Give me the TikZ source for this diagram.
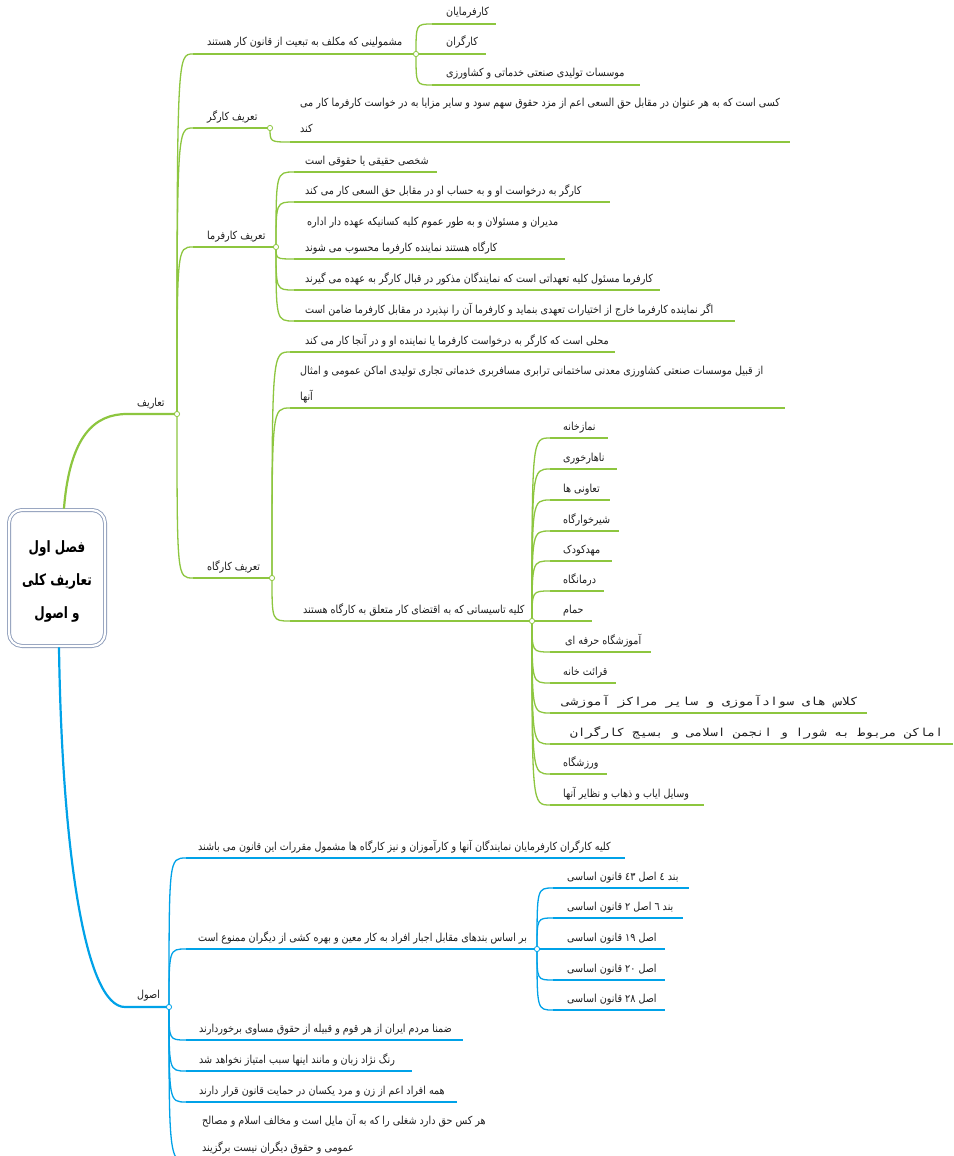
\documentclass[tikz,border=0pt]{standalone}
\usepackage{fontspec}
\setmainfont{DejaVu Sans}
\newfontfamily\arf[Script=Arabic]{DejaVu Sans}
\newfontfamily\arfm[Script=Arabic]{DejaVu Sans Mono}
\TeXXeTstate=1
\newcommand\RTLtxt[1]{\scalebox{1}[1.15]{\beginR #1\endR}}
\newcommand\RTLroot[1]{\scalebox{1}[1.3]{\beginR #1\endR}}
\definecolor{gbr}{RGB}{141,198,63}
\definecolor{bbr}{RGB}{0,162,232}
\definecolor{rootb}{RGB}{140,155,185}
\definecolor{txt}{RGB}{30,30,30}
\tikzset{
  lbl/.style={font=\arf\fontsize{9.6}{12}\selectfont, text=txt, inner sep=0pt, anchor=base west},
  mlbl/.style={font=\arfm\fontsize{9.6}{12}\selectfont, text=txt, inner sep=0pt, anchor=base west},
  gmain/.style={draw=gbr, line width=2.2pt, line cap=round},
  bmain/.style={draw=bbr, line width=2.2pt, line cap=round},
  gc/.style={draw=gbr, line width=1.3pt},
  bc/.style={draw=bbr, line width=1.3pt},
  gu/.style={draw=gbr, line width=1.6pt},
  bu/.style={draw=bbr, line width=1.6pt},
  gdot/.style={fill=white, draw=gbr, line width=0.8pt},
  bdot/.style={fill=white, draw=bbr, line width=0.8pt},
}
\begin{document}
\begin{tikzpicture}[x=1pt,y=-1pt]
\useasboundingbox (0,0) rectangle (953,1156);
\fill[white] (0,0) rectangle (953,1156);

% ---------- root ----------
\node[draw=rootb, double=white, double distance=2.2pt, line width=0.9pt, rounded corners=13pt,
      minimum width=96pt, minimum height=136pt, inner sep=0pt] (root) at (57,578) {};
\node[align=center, font=\arf\bfseries\fontsize{12}{33}\selectfont, text=black, inner sep=0pt] (rootT) at (57,581)
  {\RTLroot{فصل اول}\\\RTLroot{تعاریف کلی}\\\RTLroot{و اصول}};

% ---------- coordinates (green) ----------
\coordinate (r1) at (64,508);
\coordinate (h1) at (127,414);
\coordinate (jT) at (177,414);
\coordinate (m1) at (193,54);   \coordinate (jM) at (416,54);
\coordinate (m1a) at (432,24);  \coordinate (m1ae) at (496,24);
\coordinate (m1be) at (486,54);
\coordinate (m1c) at (432,85);  \coordinate (m1ce) at (640,85);
\coordinate (m2) at (193,128);  \coordinate (jK) at (270,128);
\coordinate (m2a) at (290,142); \coordinate (m2ae) at (790,142);
\coordinate (m3) at (193,247);  \coordinate (jF) at (276,247);
\coordinate (f1) at (294,172);  \coordinate (f1e) at (437,172);
\coordinate (f2) at (294,202);  \coordinate (f2e) at (610,202);
\coordinate (f3) at (294,259);  \coordinate (f3e) at (565,259);
\coordinate (f4) at (294,290);  \coordinate (f4e) at (660,290);
\coordinate (f5) at (294,321);  \coordinate (f5e) at (735,321);
\coordinate (m4) at (193,578);  \coordinate (jG) at (272,578);
\coordinate (g1) at (290,352);  \coordinate (g1e) at (615,352);
\coordinate (g2) at (290,408);  \coordinate (g2e) at (785,408);
\coordinate (g3) at (290,621);  \coordinate (jS) at (532,621);
\coordinate (s1) at (550,438);  \coordinate (s1e) at (608,438);
\coordinate (s2) at (550,469);  \coordinate (s2e) at (617,469);
\coordinate (s3) at (550,500);  \coordinate (s3e) at (610,500);
\coordinate (s4) at (550,531);  \coordinate (s4e) at (619,531);
\coordinate (s5) at (550,561);  \coordinate (s5e) at (612,561);
\coordinate (s6) at (550,591);  \coordinate (s6e) at (604,591);
\coordinate (s7e) at (592,621);
\coordinate (s8) at (550,652);  \coordinate (s8e) at (651,652);
\coordinate (s9) at (550,683);  \coordinate (s9e) at (616,683);
\coordinate (s10) at (550,713); \coordinate (s10e) at (867,713);
\coordinate (s11) at (550,744); \coordinate (s11e) at (953,744);
\coordinate (s12) at (550,774); \coordinate (s12e) at (607,774);
\coordinate (s13) at (550,805); \coordinate (s13e) at (704,805);

% ---------- green connectors ----------
\draw[gmain] (r1) .. controls (70,435) and (95,414) .. (h1) -- (jT);
\foreach \c in {m1,m2,m3,m4}
  \draw[gc] (jT) .. controls (jT |- \c) and (jT |- \c) .. (\c);
\draw[gu] (m1) -- (jM);
\draw[gu] (m2) -- (jK);
\draw[gu] (m3) -- (jF);
\draw[gu] (m4) -- (jG);
\foreach \c in {m1a,m1c}
  \draw[gc] (jM) .. controls (jM |- \c) and (jM |- \c) .. (\c);
\draw[gu] (m1a) -- (m1ae);
\draw[gu] (jM) -- (m1be);
\draw[gu] (m1c) -- (m1ce);
\draw[gc] (jK) .. controls (jK |- m2a) and (jK |- m2a) .. (m2a);
\draw[gu] (m2a) -- (m2ae);
\foreach \c in {f1,f2,f3,f4,f5}
  \draw[gc] (jF) .. controls (jF |- \c) and (jF |- \c) .. (\c);
\draw[gu] (f1) -- (f1e);
\draw[gu] (f2) -- (f2e);
\draw[gu] (f3) -- (f3e);
\draw[gu] (f4) -- (f4e);
\draw[gu] (f5) -- (f5e);
\foreach \c in {g1,g2,g3}
  \draw[gc] (jG) .. controls (jG |- \c) and (jG |- \c) .. (\c);
\draw[gu] (g1) -- (g1e);
\draw[gu] (g2) -- (g2e);
\draw[gu] (g3) -- (jS);
\foreach \c in {s1,s2,s3,s4,s5,s6,s8,s9,s10,s11,s12,s13}
  \draw[gc] (jS) .. controls (jS |- \c) and (jS |- \c) .. (\c);
\draw[gu] (s1) -- (s1e);
\draw[gu] (s2) -- (s2e);
\draw[gu] (s3) -- (s3e);
\draw[gu] (s4) -- (s4e);
\draw[gu] (s5) -- (s5e);
\draw[gu] (s6) -- (s6e);
\draw[gu] (jS) -- (s7e);
\draw[gu] (s8) -- (s8e);
\draw[gu] (s9) -- (s9e);
\draw[gu] (s10) -- (s10e);
\draw[gu] (s11) -- (s11e);
\draw[gu] (s12) -- (s12e);
\draw[gu] (s13) -- (s13e);

% ---------- coordinates (blue) ----------
\coordinate (r2) at (59,648);
\coordinate (h2) at (125,1007);
\coordinate (jA) at (169,1007);
\coordinate (a1) at (186,858);  \coordinate (a1e) at (625,858);
\coordinate (a2) at (186,949);  \coordinate (jB) at (537,949);
\coordinate (b1) at (553,888);  \coordinate (b1e) at (689,888);
\coordinate (b2) at (553,918);  \coordinate (b2e) at (683,918);
\coordinate (b3e) at (665,949);
\coordinate (b4) at (553,980);  \coordinate (b4e) at (665,980);
\coordinate (b5) at (553,1010); \coordinate (b5e) at (665,1010);
\coordinate (a3) at (186,1040); \coordinate (a3e) at (463,1040);
\coordinate (a4) at (186,1071); \coordinate (a4e) at (412,1071);
\coordinate (a5) at (186,1102); \coordinate (a5e) at (457,1102);
\coordinate (a6) at (192,1163); \coordinate (a6e) at (520,1163);

% ---------- blue connectors ----------
\draw[bmain] (r2) .. controls (62,850) and (85,1007) .. (h2) -- (jA);
\foreach \c in {a1,a2,a3,a4,a5,a6}
  \draw[bc] (jA) .. controls (jA |- \c) and (jA |- \c) .. (\c);
\draw[bu] (a1) -- (a1e);
\draw[bu] (a2) -- (jB);
\draw[bu] (a3) -- (a3e);
\draw[bu] (a4) -- (a4e);
\draw[bu] (a5) -- (a5e);
\draw[bu] (a6) -- (a6e);
\foreach \c in {b1,b2,b4,b5}
  \draw[bc] (jB) .. controls (jB |- \c) and (jB |- \c) .. (\c);
\draw[bu] (b1) -- (b1e);
\draw[bu] (b2) -- (b2e);
\draw[bu] (jB) -- (b3e);
\draw[bu] (b4) -- (b4e);
\draw[bu] (b5) -- (b5e);

% ---------- junction dots ----------
\foreach \j in {jT,jM,jK,jF,jG,jS} \path[gdot] (\j) circle (2.6pt);
\foreach \j in {jA,jB} \path[bdot] (\j) circle (2.6pt);

% ---------- labels (green) ----------
\node[lbl] (tT) at (137,406) {\RTLtxt{تعاریف}};
\node[lbl] (tM) at (207,46) {\RTLtxt{مشمولینی که مکلف به تبعیت از  قانون کار هستند}};
\node[lbl] (tMa) at (446,16) {\RTLtxt{کارفرمایان}};
\node[lbl] (tMb) at (446,46) {\RTLtxt{کارگران}};
\node[lbl] (tMc) at (446,77) {\RTLtxt{موسسات تولیدی صنعتی خدماتی و کشاورزی}};
\node[lbl] (tK) at (207,120) {\RTLtxt{تعریف کارگر}};
\node[lbl] (tKa1) at (300,106) {\RTLtxt{کسی است که به هر عنوان در مقابل حق السعی اعم از مزد حقوق سهم سود و سایر مزایا به در خواست کارفرما کار می}};
\node[lbl] (tKa2) at (300,132) {\RTLtxt{کند}};
\node[lbl] (tF) at (207,239) {\RTLtxt{تعریف کارفرما}};
\node[lbl] (tF1) at (305,164) {\RTLtxt{شخصی حقیقی یا حقوقی است}};
\node[lbl] (tF2) at (305,194) {\RTLtxt{کارگر به درخواست او و به حساب او در مقابل حق السعی کار می کند}};
\node[lbl] (tF3a) at (307,225) {\RTLtxt{مدیران و مسئولان و به طور عموم کلیه کسانیکه عهده دار اداره}};
\node[lbl] (tF3b) at (305,251) {\RTLtxt{کارگاه هستند نماینده کارفرما محسوب می شوند}};
\node[lbl] (tF4) at (305,282) {\RTLtxt{کارفرما مسئول کلیه تعهداتی است که نمایندگان مذکور در قبال کارگر به عهده می گیرند}};
\node[lbl] (tF5) at (305,313) {\RTLtxt{اگر نماینده کارفرما خارج از اختیارات تعهدی بنماید و کارفرما آن را نپذیرد در مقابل کارفرما ضامن است}};
\node[lbl] (tG) at (207,570) {\RTLtxt{تعریف کارگاه}};
\node[lbl] (tG1) at (305,344) {\RTLtxt{محلی است که کارگر به درخواست کارفرما یا نماینده او و در آنجا کار می کند}};
\node[lbl] (tG2a) at (300,374) {\RTLtxt{از قبیل موسسات صنعتی کشاورزی معدنی ساختمانی ترابری مسافربری خدماتی تجاری تولیدی اماکن عمومی و امثال}};
\node[lbl] (tG2b) at (300,400) {\RTLtxt{آنها}};
\node[lbl] (tG3) at (303,613) {\RTLtxt{کلیه تاسیساتی که به اقتضای کار متعلق به کارگاه هستند}};
\node[lbl] (tS1) at (563,430) {\RTLtxt{نمازخانه}};
\node[lbl] (tS2) at (563,461) {\RTLtxt{ناهارخوری}};
\node[lbl] (tS3) at (563,492) {\RTLtxt{تعاونی ها}};
\node[lbl] (tS4) at (563,523) {\RTLtxt{شیرخوارگاه}};
\node[lbl] (tS5) at (563,553) {\RTLtxt{مهدکودک}};
\node[lbl] (tS6) at (563,583) {\RTLtxt{درمانگاه}};
\node[lbl] (tS7) at (563,613) {\RTLtxt{حمام}};
\node[lbl] (tS8) at (565,644) {\RTLtxt{آموزشگاه حرفه ای}};
\node[lbl] (tS9) at (563,675) {\RTLtxt{قرائت خانه}};
\node[mlbl] (tS10) at (562,705) {\resizebox{296pt}{\height}{\RTLtxt{کلاس های سوادآموزی و سایر مراکز آموزشی}}};
\node[mlbl] (tS11) at (570,736) {\resizebox{373pt}{\height}{\RTLtxt{اماکن مربوط به شورا و انجمن اسلامی و بسیج کارگران}}};
\node[lbl] (tS12) at (563,766) {\RTLtxt{ورزشگاه}};
\node[lbl] (tS13) at (563,797) {\RTLtxt{وسایل ایاب و ذهاب و نظایر آنها}};

% ---------- labels (blue) ----------
\node[lbl] (tA) at (137,998) {\RTLtxt{اصول}};
\node[lbl] (tA1) at (198,850) {\RTLtxt{کلیه کارگران کارفرمایان نمایندگان آنها و کارآموزان و نیز کارگاه ها مشمول مقررات این قانون می باشند}};
\node[lbl] (tA2) at (198,941) {\RTLtxt{بر اساس بندهای مقابل اجبار افراد به کار معین و بهره کشی از دیگران ممنوع است}};
\node[lbl] (tB1) at (567,880) {\RTLtxt{بند ٤ اصل ٤٣ قانون اساسی}};
\node[lbl] (tB2) at (567,910) {\RTLtxt{بند ٦ اصل ٢ قانون اساسی}};
\node[lbl] (tB3) at (567,941) {\RTLtxt{اصل ١٩ قانون اساسی}};
\node[lbl] (tB4) at (567,972) {\RTLtxt{اصل ٢٠ قانون اساسی}};
\node[lbl] (tB5) at (567,1002) {\RTLtxt{اصل ٢٨ قانون اساسی}};
\node[lbl] (tA3) at (199,1032) {\RTLtxt{ضمنا مردم ایران از هر قوم و قبیله از حقوق مساوی برخوردارند}};
\node[lbl] (tA4) at (199,1063) {\RTLtxt{رنگ نژاد زبان و مانند اینها سبب امتیاز نخواهد شد}};
\node[lbl] (tA5) at (199,1094) {\RTLtxt{همه افراد اعم از زن و مرد یکسان در حمایت قانون قرار دارند}};
\node[lbl] (tA6a) at (202,1124) {\RTLtxt{هر کس حق دارد شغلی را که به آن مایل است و مخالف اسلام و مصالح}};
\node[lbl] (tA6b) at (202,1151) {\RTLtxt{عمومی و حقوق دیگران نیست برگزیند}};
\end{tikzpicture}
\end{document}
